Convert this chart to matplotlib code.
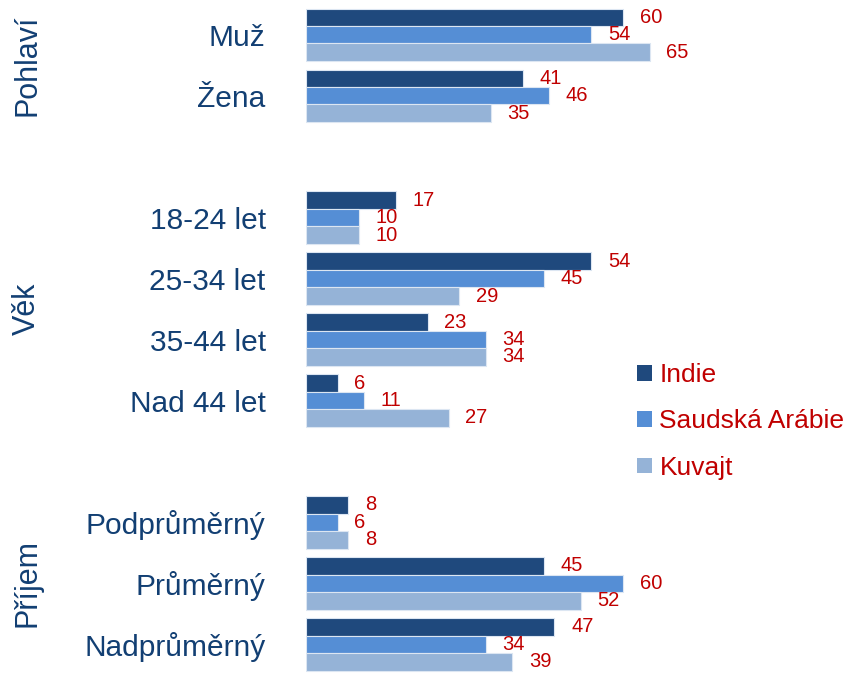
import matplotlib
matplotlib.use("Agg")
import matplotlib.pyplot as plt
from matplotlib.patches import Patch

plt.rcParams['font.family'] = ['Liberation Sans', 'DejaVu Sans']

groups = ["Pohlaví", "Věk", "Příjem"]
categories = [
    ["Muž", "Žena"],
    ["18-24 let", "25-34 let", "35-44 let", "Nad 44 let"],
    ["Podprůměrný", "Průměrný", "Nadprůměrný"],
]
series = ["Indie", "Saudská Arábie", "Kuvajt"]
indie = [60, 41, 17, 54, 23, 6, 8, 45, 47]
saudi = [54, 46, 10, 45, 34, 11, 6, 60, 34]
kuvajt = [65, 35, 10, 29, 34, 27, 8, 52, 39]

colors = ["#1F497D", "#558ED5", "#95B3D7"]
navy = "#123F73"
red = "#C00000"

# positions: one empty slot between groups
pos = []
labels = []
group_centers = []
y = 0
for cats in categories:
    start = y
    for c in cats:
        pos.append(y)
        labels.append(c)
        y += 1
    group_centers.append((start + y - 1) / 2)
    y += 1

fig = plt.figure(figsize=(8.48, 6.73), dpi=100)
ax = fig.add_axes([306 / 848, 0, 370 / 848, 1])

h = 0.286
for i, (vals, col) in enumerate(zip([indie, saudi, kuvajt], colors)):
    ys = [p + (i - 1) * h for p in pos]
    ax.barh(ys, vals, height=h, color=col, edgecolor="#DCE6F2", linewidth=0.8)
    for yy, v in zip(ys, vals):
        ax.annotate(str(v), (v, yy), xytext=(12, 0), textcoords="offset points",
                    ha="left", va="center", color=red, fontsize=14.5)

ax.set_xlim(0, 70)
ax.set_ylim(10.47, -0.57)
ax.set_yticks(pos)
ax.set_yticklabels(labels, fontsize=21.5, color=navy)
ax.tick_params(axis="y", length=0, pad=29)
ax.set_xticks([])
for s in ax.spines.values():
    s.set_visible(False)

for g, c in zip(groups, group_centers):
    ax.text(-279 / 5.29, c, g, rotation=90, ha="center", va="center",
            fontsize=22, color=navy)

handles = [Patch(facecolor=col, edgecolor="none") for col in colors]
fig.legend(handles, series, loc="upper left", bbox_to_anchor=(637 / 848, 1 - 363 / 673),
           frameon=False, borderpad=0, borderaxespad=0, fontsize=19, labelcolor=red,
           handlelength=0.55, handleheight=0.55, handletextpad=0.3, labelspacing=0.85)

fig.savefig("out.png", dpi=100)
